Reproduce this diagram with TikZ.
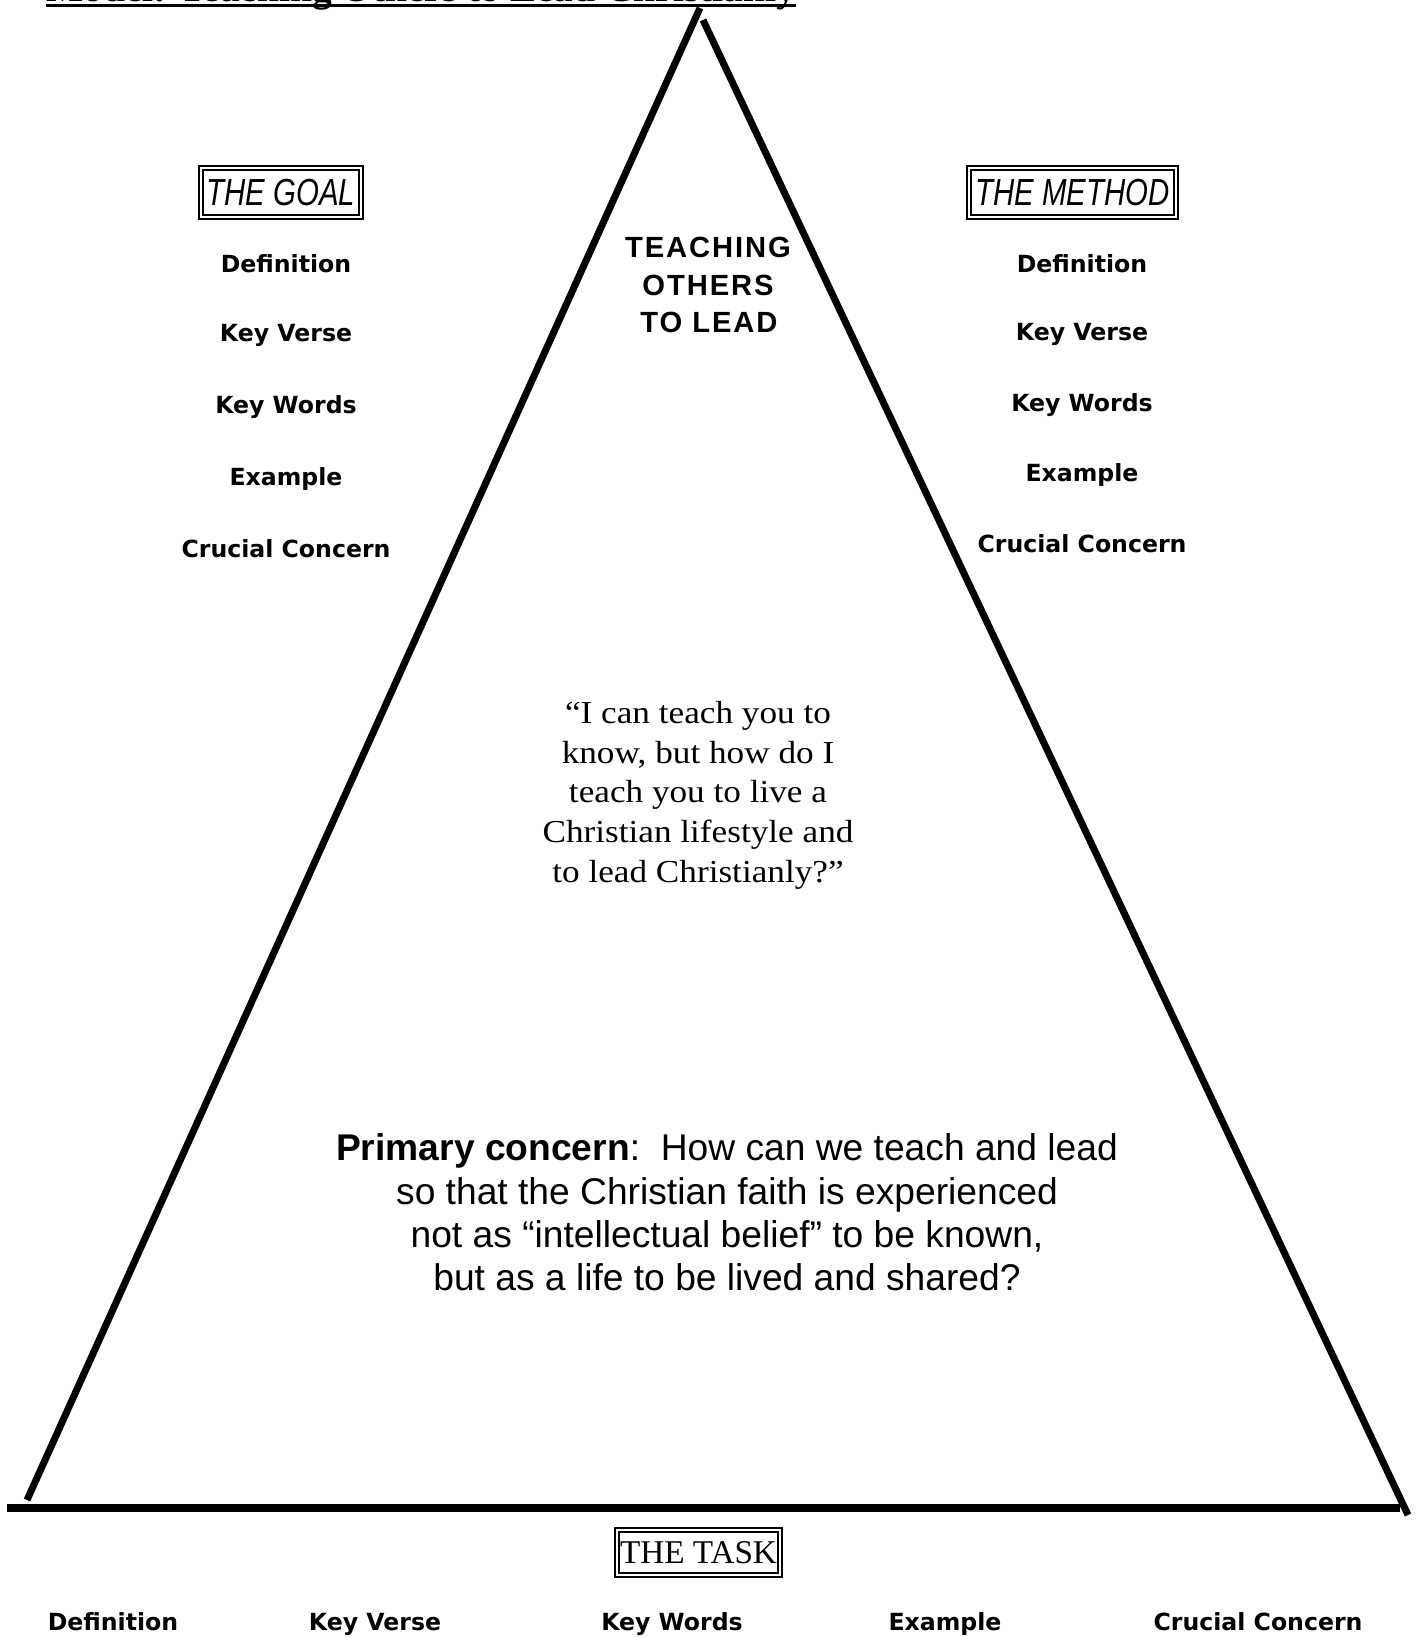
\documentclass[tikz,border=0pt]{standalone}
\usepackage{fontspec}
\usetikzlibrary{calc}
\newfontfamily\itemfam{DejaVu Sans}
\newfontfamily\arialfam{Liberation Sans}
\newfontfamily\headfam[LetterSpace=6.5]{Liberation Sans}
\newfontfamily\boxfam[FakeStretch=0.78]{Liberation Sans}
\newfontfamily\timesfam{Liberation Serif}
\newfontfamily\quotefam[FakeStretch=1.1]{Liberation Serif}
\begin{document}
\begin{tikzpicture}[x=0.5pt,y=-0.5pt,
  itemlabel/.style={font={\itemfam\bfseries\fontsize{11.8}{14}\selectfont}, anchor=base, inner sep=0pt},
  headlabel/.style={font={\headfam\bfseries\fontsize{14.6}{17}\selectfont}, anchor=base, inner sep=0pt},
  quoteline/.style={font={\quotefam\fontsize{16}{19.8}\selectfont}, anchor=base, inner sep=0pt},
  concernline/.style={font={\arialfam\fontsize{18.6}{21.5}\selectfont}, anchor=base, inner sep=0pt},
  framebox/.style={draw, line width=0.65pt, minimum height=22.5pt, inner sep=0pt},
  outerframe/.style={line width=1pt},
  side/.style={line width=3.5pt},
  groundline/.style={line width=4pt}
]
\useasboundingbox (0,0) rectangle (1421,1638);
\clip (0,0) rectangle (1421,1638);

% title (cut off at the top)
\node[font={\timesfam\bfseries\fontsize{19.7}{23}\selectfont}, anchor=base west, inner sep=0pt] (title) at (46,2) {Model: Teaching Others to Lead Christianly};
\draw[line width=1.5pt] ([yshift=-1.75pt]title.base west) -- ([yshift=-1.75pt]title.base east);

% triangle
\coordinate (apexL) at (700,8);
\coordinate (apexR) at (703,20);
\coordinate (footL) at (27,1500);
\coordinate (footR) at (1408,1515);
\coordinate (groundL) at (7,1508);
\coordinate (groundR) at (1400,1508);
\draw[side] (footL) -- (apexL);
\draw[side] (apexR) -- (footR);
\draw[groundline] (groundL) -- (groundR);

% boxes
\node[framebox, minimum width=78pt, font={\boxfam\itshape\fontsize{18.85}{22}\selectfont}] (goal) at (281,192.5) {THE GOAL};
\draw[outerframe] ($(goal.south west)+(-1.75pt,-1.75pt)$) rectangle ($(goal.north east)+(1.75pt,1.75pt)$);
\node[framebox, minimum width=101.5pt, font={\boxfam\itshape\fontsize{18.85}{22}\selectfont}] (method) at (1072.5,192.5) {THE METHOD};
\draw[outerframe] ($(method.south west)+(-1.75pt,-1.75pt)$) rectangle ($(method.north east)+(1.75pt,1.75pt)$);
\node[framebox, minimum width=79.5pt, minimum height=20.5pt, font={\timesfam\fontsize{16.6}{19}\selectfont}] (task) at (698.5,1552.5) {THE TASK};
\draw[outerframe] ($(task.south west)+(-1.75pt,-1.75pt)$) rectangle ($(task.north east)+(1.75pt,1.75pt)$);

% left column
\node[itemlabel] (gdef) at (286,272) {Definition};
\node[itemlabel] (gver) at (286,341) {Key Verse};
\node[itemlabel] (gwor) at (286,413) {Key Words};
\node[itemlabel] (gexa) at (286,485) {Example};
\node[itemlabel] (gcru) at (286,557) {Crucial Concern};

% right column
\node[itemlabel] (mdef) at (1082,272) {Definition};
\node[itemlabel] (mver) at (1082,340) {Key Verse};
\node[itemlabel] (mwor) at (1082,411) {Key Words};
\node[itemlabel] (mexa) at (1082,481) {Example};
\node[itemlabel] (mcru) at (1082,552) {Crucial Concern};

% bottom row
\node[itemlabel] (tdef) at (113,1630) {Definition};
\node[itemlabel] (tver) at (375,1630) {Key Verse};
\node[itemlabel] (twor) at (672,1630) {Key Words};
\node[itemlabel] (texa) at (945,1630) {Example};
\node[itemlabel] (tcru) at (1258,1630) {Crucial Concern};

% heading inside triangle
\node[headlabel] (h1) at (708,257) {TEACHING};
\node[headlabel] (h2) at (708,295) {OTHERS};
\node[headlabel] (h3) at (709,332) {TO LEAD};

% quote
\node[quoteline] (q1) at (698,723) {“I can teach you to};
\node[quoteline] (q2) at (698,763) {know, but how do I};
\node[quoteline] (q3) at (698,802) {teach you to live a};
\node[quoteline] (q4) at (698,842) {Christian lifestyle and};
\node[quoteline] (q5) at (698,882) {to lead Christianly?”};

% primary concern
\node[concernline] (c1) at (727,1160) {\textbf{Primary concern}:\ \ How can we teach and lead};
\node[concernline] (c2) at (727,1204) {so that the Christian faith is experienced};
\node[concernline] (c3) at (727,1247) {not as “intellectual belief” to be known,};
\node[concernline] (c4) at (727,1290) {but as a life to be lived and shared?};
\end{tikzpicture}
\end{document}
